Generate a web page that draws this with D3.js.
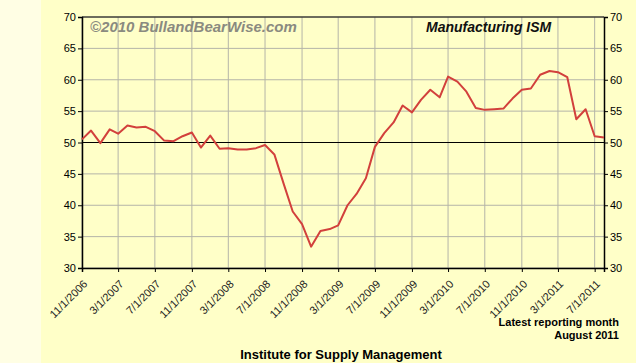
<!DOCTYPE html>
<html lang="en">
<head>
<meta charset="utf-8">
<script src="https://d3js.org/d3.v7.min.js"></script>
<style type="text/css">
body { margin: 0; background: #ffffc8; }
svg { display: block; font-family: "Liberation Sans", Arial, sans-serif; }
</style>
</head>
<body>
<script type="text/javascript">

// Monthly ISM manufacturing index, 11/2006 .. 8/2011
const startMonth = "2006-11-01";
const ismValues = [
  50.5, 51.9, 49.9, 52.1, 51.4, 52.7, 52.4, 52.5, 51.8, 50.3, 50.2, 51.0,
  51.6, 49.2, 51.1, 49.0, 49.1, 48.9, 48.9, 49.1, 49.6, 48.1, 43.4, 39.0,
  37.0, 33.4, 35.9, 36.2, 36.8, 40.0, 41.8, 44.3, 49.3, 51.5, 53.2, 55.9,
  54.8, 56.8, 58.4, 57.2, 60.5, 59.7, 58.1, 55.5, 55.2, 55.3, 55.4, 57.0,
  58.4, 58.6, 60.8, 61.4, 61.2, 60.4, 53.7, 55.3, 51.0, 50.8
];
const yTicks = [30, 35, 40, 45, 50, 55, 60, 65, 70];
const xTickLabels = ["11/1/2006", "3/1/2007", "7/1/2007", "11/1/2007", "3/1/2008",
  "7/1/2008", "11/1/2008", "3/1/2009", "7/1/2009", "11/1/2009", "3/1/2010",
  "7/1/2010", "11/1/2010", "3/1/2011", "7/1/2011"];

const width = 636;
const height = 363;
const margin = {left: 82, right: 32, top: 17, bottom: 95};

const parseDay = d3.timeParse("%-m/%-d/%Y");
const start = d3.timeParse("%Y-%m-%d")(startMonth);
const data = ismValues.map((v, i) => ({date: d3.timeMonth.offset(start, i), value: v}));

const svg = d3.select("body").append("svg")
  .attr("width", width)
  .attr("height", height);

// backgrounds
svg.append("rect").attr("width", width).attr("height", height).attr("fill", "#ffffc8");
svg.append("rect").attr("width", 41).attr("height", height).attr("fill", "#fffee4");

const x = d3.scaleTime()
  .domain(d3.extent(data, d => d.date))
  .range([margin.left, width - margin.right]);

const y = d3.scaleLinear()
  .domain([30, 70])
  .range([height - margin.bottom, margin.top]);

const xTicks = xTickLabels.map(parseDay);

// gridlines
svg.append("g").selectAll("line.v").data(xTicks).enter().append("line")
  .attr("x1", d => x(d)).attr("x2", d => x(d))
  .attr("y1", y(30)).attr("y2", y(70))
  .attr("stroke", "#b4b4a8").attr("stroke-width", 1);
svg.append("g").selectAll("line.h").data(yTicks).enter().append("line")
  .attr("x1", x.range()[0]).attr("x2", x.range()[1])
  .attr("y1", d => y(d)).attr("y2", d => y(d))
  .attr("stroke", "#b4b4a8").attr("stroke-width", 1);

// 50 line and frame
svg.append("line")
  .attr("x1", x.range()[0]).attr("x2", x.range()[1])
  .attr("y1", y(50)).attr("y2", y(50))
  .attr("stroke", "#000");
svg.append("line")
  .attr("x1", x.range()[0]).attr("x2", x.range()[1])
  .attr("y1", y(70)).attr("y2", y(70))
  .attr("stroke", "#000");

// axes
const leftAxis = d3.axisLeft(y).tickValues(yTicks).tickSize(4).tickPadding(2);
const rightAxis = d3.axisRight(y).tickValues(yTicks).tickSize(4).tickPadding(2);
const bottomAxis = d3.axisBottom(x).tickValues(xTicks).tickSize(4)
  .tickFormat(d3.timeFormat("%-m/%-d/%Y"));

function styleAxis(g) {
  g.select(".domain").attr("stroke", "#000").attr("stroke-width", 1.5);
  g.selectAll(".tick line").attr("stroke", "#000");
  g.selectAll("text").attr("fill", "#000").style("font-size", "11px");
}

svg.append("g").attr("transform", `translate(${x.range()[0]},0)`).call(leftAxis).call(styleAxis);
svg.append("g").attr("transform", `translate(${x.range()[1]},0)`).call(rightAxis).call(styleAxis);
svg.append("g").attr("transform", `translate(0,${y(30)})`).call(bottomAxis).call(styleAxis)
  .selectAll("text")
  .style("font-size", "11px")
  .attr("fill", "#222")
  .attr("text-anchor", "end")
  .attr("dy", "0.35em")
  .attr("transform", "translate(-2,9) rotate(-45)");

// watermark and titles
svg.append("text")
  .attr("x", 90).attr("y", 32)
  .attr("fill", "#8a8a80")
  .style("font-size", "15px").style("font-weight", "bold").style("font-style", "italic")
  .text("\u00a92010 BullandBearWise.com");

svg.append("text")
  .attr("x", 426).attr("y", 32)
  .attr("fill", "#111")
  .style("font-size", "14px").style("font-weight", "bold").style("font-style", "italic")
  .text("Manufacturing ISM");

// series line
const line = d3.line().x(d => x(d.date)).y(d => y(d.value));
svg.append("path")
  .datum(data)
  .attr("d", line)
  .attr("fill", "none")
  .attr("stroke", "#d2403c")
  .attr("stroke-width", 2)
  .attr("stroke-linejoin", "round");

svg.append("text")
  .attr("x", 619).attr("y", 326)
  .attr("text-anchor", "end")
  .style("font-size", "11px").style("font-weight", "bold")
  .text("Latest reporting month");
svg.append("text")
  .attr("x", 619).attr("y", 339)
  .attr("text-anchor", "end")
  .style("font-size", "11px").style("font-weight", "bold")
  .text("August 2011");

svg.append("text")
  .attr("x", 341).attr("y", 359)
  .attr("text-anchor", "middle")
  .style("font-size", "13px").style("font-weight", "bold")
  .text("Institute for Supply Management");

</script>
</body>
</html>
